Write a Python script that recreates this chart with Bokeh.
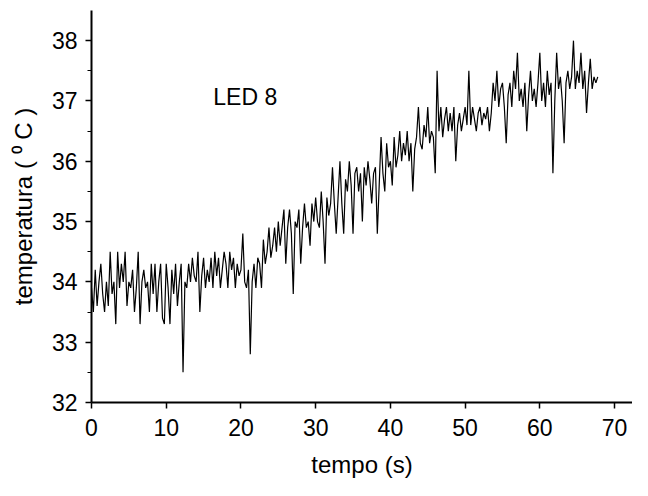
from bokeh.plotting import figure
from bokeh.models import Range1d, FixedTicker, Label
from bokeh.embed import file_html
from bokeh.resources import INLINE

dt = 0.25
temperature = [
    33.9, 33.5, 34.2, 33.6, 34.0, 34.3, 33.8, 33.5,
    34.0, 33.6, 34.5, 33.8, 34.0, 33.3, 34.5, 33.9,
    34.3, 34.0, 34.5, 33.6, 34.0, 33.9, 34.2, 33.5,
    33.9, 34.5, 33.3, 34.0, 34.2, 33.9, 34.0, 33.5,
    34.3, 33.8, 34.3, 33.5, 34.0, 34.3, 33.4, 33.3,
    34.3, 33.9, 33.3, 34.2, 33.8, 34.3, 33.6, 34.0,
    34.3, 32.5, 34.0, 33.9, 34.3, 34.0, 34.4, 34.1,
    34.0, 34.5, 33.5, 34.1, 34.4, 33.9, 34.2, 34.0,
    34.4, 33.9, 34.5, 34.1, 34.4, 33.9, 34.2, 34.5,
    34.3, 33.9, 34.5, 34.2, 34.4, 33.9, 34.3, 34.1,
    34.2, 34.8, 34.0, 33.9, 34.2, 32.8, 34.0, 34.3,
    33.9, 34.4, 34.3, 33.9, 34.7, 34.3, 34.5, 34.9,
    34.4, 34.6, 34.9, 34.5, 35.0, 34.6, 34.9, 35.2,
    34.3, 34.9, 35.2, 34.8, 33.8, 35.0, 34.9, 35.2,
    34.3, 34.9, 35.3, 34.9, 35.0, 34.6, 35.3, 35.0,
    35.4, 35.0, 34.9, 35.5, 35.0, 34.3, 35.4, 35.1,
    35.3, 35.9, 35.3, 34.8, 35.4, 36.0, 35.3, 34.8,
    35.7, 35.5, 36.0, 35.6, 34.8, 35.8, 35.9, 35.5,
    35.8, 35.0, 35.9, 35.6, 36.0, 35.7, 35.3, 35.8,
    35.9, 34.8, 35.6, 36.4, 35.8, 35.5, 36.3, 35.9,
    36.0, 35.6, 36.4, 35.9, 36.1, 36.5, 36.0, 36.3,
    36.1, 36.5, 36.0, 36.3, 35.5, 36.2, 36.4, 36.9,
    36.3, 36.2, 36.6, 36.4, 36.9, 36.3, 36.5, 36.4,
    35.8, 37.5, 36.5, 36.9, 36.4, 36.7, 36.9, 36.5,
    36.8, 36.5, 36.9, 36.0, 36.6, 36.8, 36.5, 36.7,
    36.9, 36.6, 37.5, 36.6, 36.9, 36.7, 36.5, 36.8,
    36.9, 36.6, 36.8, 36.7, 36.9, 36.5, 36.8, 37.3,
    37.0, 37.5, 36.9, 37.2, 37.3, 36.9, 36.3, 37.1,
    37.3, 36.9, 37.5, 37.2, 37.8, 37.0, 37.2, 36.9,
    37.3, 36.5, 37.1, 37.5, 37.0, 37.2, 36.9, 37.3,
    37.8, 37.0, 37.3, 36.9, 37.5, 37.1, 37.3, 35.8,
    37.0, 37.8, 37.2, 37.4, 37.0, 36.3, 37.3, 37.5,
    37.2, 37.4, 38.0, 37.2, 37.5, 37.3, 37.8, 37.2,
    37.5, 36.8, 37.3, 37.7, 37.2, 37.4, 37.3, 37.4,
]
time = [i * dt for i in range(len(temperature))]

x_ticks = [0, 10, 20, 30, 40, 50, 60, 70]
y_ticks = [32, 33, 34, 35, 36, 37, 38]
y_minor_ticks = [32.5, 33.5, 34.5, 35.5, 36.5, 37.5]
x_label = "tempo (s)"
y_label = "temperatura ( \u2070 C )"
annotation = "LED 8"

FONT = "Liberation Sans"

p = figure(width=632, height=480, output_backend="svg", toolbar_location=None,
           x_range=Range1d(0, 72.4), y_range=Range1d(32, 38.5),
           min_border_left=91, min_border_right=0, min_border_top=10, min_border_bottom=74)
p.outline_line_color = None
p.grid.visible = False
p.background_fill_color = "white"

p.line(time, temperature, line_color="black", line_width=1.2)

p.add_layout(Label(x=16.3, y=37.06, text=annotation, text_font=FONT, text_font_size="23px",
                   text_baseline="middle", text_align="left", text_color="black"))

p.xaxis.ticker = FixedTicker(ticks=x_ticks)
p.yaxis.ticker = FixedTicker(ticks=y_ticks, minor_ticks=y_minor_ticks)
for ax in (p.xaxis, p.yaxis):
    ax.axis_line_width = 2
    ax.axis_line_color = "black"
    ax.major_tick_line_width = 1.5
    ax.major_tick_line_color = "black"
    ax.major_tick_out = 6
    ax.major_tick_in = 0
    ax.major_label_text_font = FONT
    ax.major_label_text_font_size = "23px"
    ax.major_label_text_color = "black"
    ax.axis_label_text_font = FONT
    ax.axis_label_text_font_size = "24px"
    ax.axis_label_text_font_style = "normal"
    ax.axis_label_text_color = "black"
p.xaxis.minor_tick_line_color = None
p.yaxis.minor_tick_out = 4
p.yaxis.minor_tick_in = 0
p.yaxis.minor_tick_line_color = "black"
p.yaxis.minor_tick_line_width = 1
p.xaxis.axis_label = x_label
p.yaxis.axis_label = y_label
p.xaxis.major_label_standoff = 10
p.yaxis.major_label_standoff = 8
p.xaxis.axis_label_standoff = 12
p.yaxis.axis_label_standoff = 12

open("out.html", "w").write(file_html(p, INLINE))
